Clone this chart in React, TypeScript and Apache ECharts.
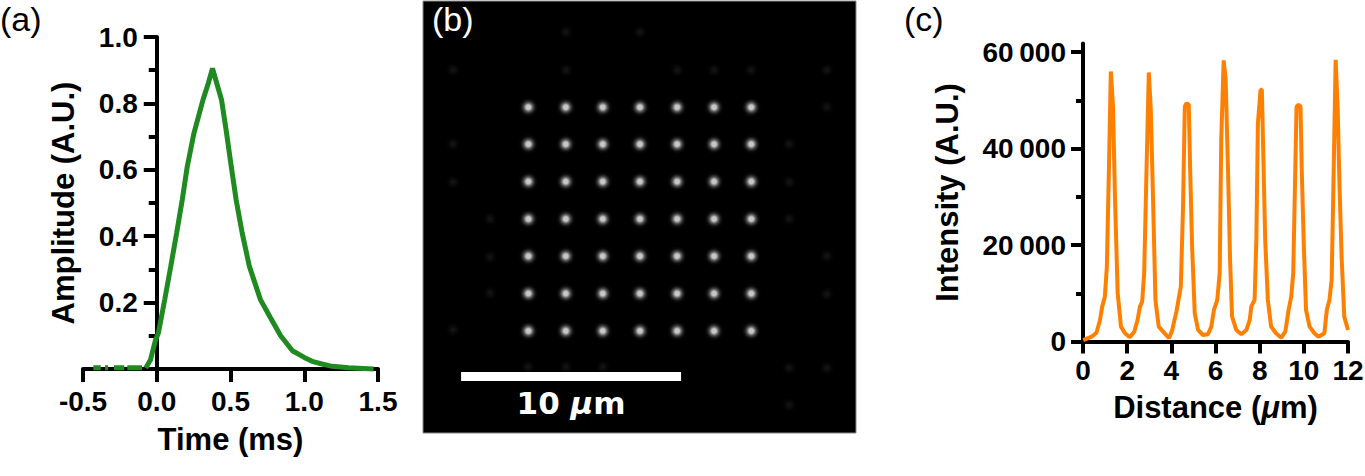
import React, { useEffect, useRef } from 'react';
import * as echarts from 'echarts';

// ---------- Panel (a): amplitude vs time ----------
const timeMs = [
  -0.43, -0.38, -0.365, -0.35, -0.33, -0.31, -0.29, -0.22, -0.21, -0.2, -0.1, -0.09,
  -0.075, -0.043, -0.01, 0.011, 0.054, 0.095, 0.135, 0.173, 0.207, 0.252, 0.313, 0.349, 0.378,
  0.439, 0.473, 0.505, 0.538, 0.579, 0.628, 0.703, 0.77, 0.84, 0.92, 1.0, 1.06, 1.12, 1.19, 1.3, 1.47,
];
const amplitude: (number | null)[] = [
  0.004, 0.004, null, 0.004, 0.004, null, 0.004, 0.004, null, 0.004, 0.004, null,
  0.003, 0.027, 0.085, 0.108, 0.209, 0.309, 0.41, 0.51, 0.61, 0.71, 0.81, 0.86, 0.905,
  0.811, 0.711, 0.61, 0.51, 0.41, 0.309, 0.209, 0.155, 0.1, 0.055, 0.035, 0.022, 0.015, 0.008, 0.004, 0.0,
];
const aXMin = -0.5;
const aXMax = 1.5;
const aXStep = 0.5;
const aYMax = 1.0;
const aYStep = 0.2;

// ---------- Panel (b): spot array image (µm) ----------
const spotCols = [4.79, 6.49, 8.17, 9.86, 11.55, 13.23, 14.92];
const spotRows = [4.83, 6.51, 8.21, 9.91, 11.6, 13.3, 15.0];
const faintSpotX = [1.36, 6.5, 11.55, 13.23, 14.91, 6.5, 9.86, 1.36, 1.36, 3.05, 3.05, 3.05, 1.36, 4.77, 6.5, 8.18, 16.64, 16.64, 16.64, 18.36, 18.36, 18.36, 18.36, 18.36, 16.64, 16.64];
const faintSpotY = [3.14, 3.14, 3.14, 3.14, 3.14, 1.41, 1.41, 6.5, 8.23, 9.91, 11.64, 13.27, 14.95, 16.64, 16.64, 16.64, 6.5, 8.23, 9.91, 3.14, 4.82, 11.59, 13.32, 16.68, 16.68, 18.36];
const imageWidthUm = 19.68;
const imageHeightUm = 19.64;
const scaleBarStart = 1.73;
const scaleBarLength = 10;
const scaleBarY = 17.07;

// ---------- Panel (c): intensity profile ----------
const distanceUm = [
  0.01, 0.39, 0.61, 0.77, 0.87, 0.99, 1.08, 1.17, 1.26, 1.36, 1.45, 1.57, 1.72, 1.9, 2.12,
  2.32, 2.47, 2.58, 2.68, 2.77, 2.88, 2.98, 3.07, 3.18, 3.28, 3.43, 3.7, 3.9,
  4.04, 4.23, 4.43, 4.53, 4.61, 4.68, 4.79, 4.85, 4.94, 5.06, 5.21, 5.43, 5.66,
  5.81, 5.93, 6.08, 6.19, 6.26, 6.37, 6.46, 6.57, 6.66, 6.75, 6.94, 7.17,
  7.4, 7.55, 7.62, 7.77, 7.85, 7.92, 8.04, 8.1, 8.15, 8.25, 8.37, 8.52, 8.74, 8.98,
  9.16, 9.31, 9.43, 9.52, 9.61, 9.67, 9.76, 9.85, 9.91, 10.0, 10.1, 10.26, 10.48, 10.66,
  10.93, 11.04, 11.16, 11.26, 11.35, 11.44, 11.53, 11.62, 11.71, 11.83, 12.0,
];
const intensity = [
  300, 1000, 1830, 4460, 7230, 9300, 15500, 34900, 56000, 48700, 29400, 10000, 3080, 1700, 870,
  2030, 4460, 7230, 8270, 14200, 36300, 55800, 48100, 28000, 8600, 3080, 1700, 700,
  2390, 6190, 11400, 28000, 48700, 49400, 49100, 36300, 19700, 5850, 2390, 1350, 1490,
  3080, 6540, 8620, 14200, 41800, 58300, 54300, 34900, 16900, 5150, 2390, 1490,
  2390, 4460, 7230, 8620, 21100, 45300, 52200, 52200, 41800, 21100, 8620, 3080, 1700, 790,
  2030, 6540, 9300, 14200, 34900, 48700, 49100, 48700, 34900, 19700, 6540, 3080, 1700, 1000,
  1700, 6540, 8620, 12800, 34900, 58400, 48700, 31500, 17600, 5150, 2390,
];
const cXMax = 12;
const cXStep = 2;
const cYMax = 61800;
const cYMajor = [0, 20000, 40000, 60000];
const cYMinor = [10000, 30000, 50000];

const FONT = '"Liberation Sans", Arial, Helvetica, sans-serif';
const SCALE_FONT = '"DejaVu Sans", Verdana, sans-serif';
const GREEN = '#1f8a1f';
const ORANGE = '#ff8000';

const tickLabel = { fontFamily: FONT, fontSize: 28, fontWeight: 'bold' as const, color: '#000' };
const axisTitle = { fontFamily: FONT, fontSize: 31, fontWeight: 'bold' as const, color: '#000' };
const blackLine = { color: '#000', width: 4 };

// panel (a) layout
const A_LEFT = 83;
const A_WIDTH = 295;
// the y axis of panel (a) sits at time 0, inside the x range
const A_Y_OFFSET = -((0 - aXMin) / (aXMax - aXMin)) * A_WIDTH;

export default function App() {
  const ref = useRef<HTMLDivElement>(null);
  useEffect(() => {
    document.body.style.margin = '0';
    const chart = echarts.init(ref.current!, null, { renderer: 'svg' });

    const spotGradient = new echarts.graphic.RadialGradient(0.5, 0.5, 0.5, [
      { offset: 0, color: 'rgba(255,255,255,1)' },
      { offset: 0.22, color: 'rgba(250,250,250,0.97)' },
      { offset: 0.45, color: 'rgba(180,180,180,0.55)' },
      { offset: 0.72, color: 'rgba(90,90,90,0.18)' },
      { offset: 1, color: 'rgba(0,0,0,0)' },
    ]);
    const faintGradient = new echarts.graphic.RadialGradient(0.5, 0.5, 0.5, [
      { offset: 0, color: 'rgba(255,255,255,0.11)' },
      { offset: 0.5, color: 'rgba(255,255,255,0.04)' },
      { offset: 1, color: 'rgba(0,0,0,0)' },
    ]);

    const spots: number[][] = [];
    spotRows.forEach((r) => spotCols.forEach((c) => spots.push([c, r])));
    const faint = faintSpotX.map((x, i) => [x, faintSpotY[i]]);

    const option: any = {
      animation: false,
      backgroundColor: '#fff',
      grid: [
        { left: A_LEFT, top: 37, width: A_WIDTH, height: 332, containLabel: false, outerBoundsMode: 'none' },
        { left: 423, top: 1, width: 433, height: 432, show: true, backgroundColor: '#000', borderColor: '#8a8a8a', borderWidth: 1, containLabel: false, outerBoundsMode: 'none' },
        { left: 1083, top: 43.5, width: 265, height: 298, containLabel: false, outerBoundsMode: 'none' },
      ],
      xAxis: [
        {
          gridIndex: 0, type: 'value', min: aXMin, max: aXMax, interval: aXStep,
          axisLine: { show: true, onZero: false, lineStyle: blackLine },
          axisTick: { show: true, length: 13, lineStyle: blackLine },
          axisLabel: { ...tickLabel, margin: 18, formatter: (v: number) => v.toFixed(1) },
          splitLine: { show: false },
          name: 'Time (ms)', nameLocation: 'middle', nameGap: 55, nameTextStyle: axisTitle,
        },
        { gridIndex: 1, type: 'value', min: 0, max: imageWidthUm, show: false },
        {
          gridIndex: 2, type: 'value', min: 0, max: cXMax, interval: cXStep,
          axisLine: { show: true, onZero: false, lineStyle: blackLine },
          axisTick: { show: true, length: 12, lineStyle: blackLine },
          axisLabel: { ...tickLabel, margin: 15 },
          splitLine: { show: false },
          name: 'Distance ({u|μ}m)', nameLocation: 'middle', nameGap: 50,
          nameTextStyle: { ...axisTitle, rich: { u: { ...axisTitle, fontStyle: 'italic' } } },
        },
      ],
      yAxis: [
        {
          gridIndex: 0, type: 'value', min: 0, max: aYMax, interval: aYStep,
          position: 'left', offset: A_Y_OFFSET,
          axisLine: { show: true, onZero: false, lineStyle: blackLine },
          axisTick: { show: true, length: 13, lineStyle: blackLine },
          minorTick: { show: true, splitNumber: 2, length: 8, lineStyle: blackLine },
          axisLabel: { ...tickLabel, margin: 19, showMinLabel: false, formatter: (v: number) => v.toFixed(1) },
          splitLine: { show: false },
          name: 'Amplitude (A.U.)', nameLocation: 'middle', nameGap: 78, nameTextStyle: axisTitle,
        },
        { gridIndex: 1, type: 'value', min: 0, max: imageHeightUm, inverse: true, show: false },
        {
          gridIndex: 2, type: 'value', min: 0, max: cYMax, position: 'left',
          axisLine: { show: true, onZero: false, lineStyle: blackLine },
          axisTick: { show: true, length: 12, lineStyle: blackLine, customValues: cYMajor },
          axisLabel: {
            ...tickLabel, margin: 17, customValues: cYMajor,
            formatter: (v: number) => (v === 0 ? '0' : String(v / 1000) + '\u2009000'),
          },
          splitLine: { show: false },
          name: 'Intensity (A.U.)', nameLocation: 'middle', nameGap: 120, nameTextStyle: axisTitle,
        },
        {
          gridIndex: 2, type: 'value', min: 0, max: cYMax, position: 'left',
          axisLine: { show: false, onZero: false },
          axisTick: { show: true, length: 7, lineStyle: blackLine, customValues: cYMinor },
          axisLabel: { show: false },
          splitLine: { show: false },
        },
      ],
      series: [
        {
          type: 'line', xAxisIndex: 0, yAxisIndex: 0, clip: false, symbol: 'none', z: 5,
          lineStyle: { color: GREEN, width: 5 },
          data: timeMs.map((t, i) => [t, amplitude[i] === null ? '-' : amplitude[i]]),
        },
        {
          type: 'scatter', xAxisIndex: 1, yAxisIndex: 1, symbolSize: 16, silent: true,
          itemStyle: { color: faintGradient },
          data: faint,
        },
        {
          type: 'scatter', xAxisIndex: 1, yAxisIndex: 1, symbolSize: 21, silent: true,
          itemStyle: { color: spotGradient },
          data: spots,
        },
        {
          type: 'line', xAxisIndex: 1, yAxisIndex: 1, symbol: 'none', silent: true,
          lineStyle: { color: '#fff', width: 9, cap: 'butt' },
          data: [[scaleBarStart, scaleBarY], [scaleBarStart + scaleBarLength, scaleBarY]],
        },
        {
          type: 'scatter', xAxisIndex: 1, yAxisIndex: 1, symbolSize: 1, silent: true,
          itemStyle: { color: '#000', opacity: 0 },
          label: {
            show: true, position: 'bottom', distance: 11,
            color: '#fff', opacity: 1, textBorderWidth: 0,
            formatter: '{n|10 }{u|μ}{n|m}',
            rich: {
              n: { fontFamily: SCALE_FONT, fontWeight: 'bold', fontSize: 31, color: '#fff' },
              u: { fontFamily: SCALE_FONT, fontWeight: 'bold', fontStyle: 'italic', fontSize: 31, color: '#fff' },
            },
          },
          data: [[scaleBarStart + scaleBarLength / 2, scaleBarY]],
        },
        {
          type: 'line', xAxisIndex: 2, yAxisIndex: 2, clip: false, symbol: 'none', z: 5,
          lineStyle: { color: ORANGE, width: 4 },
          data: distanceUm.map((d, i) => [d, intensity[i]]),
        },
      ],
      graphic: [
        { type: 'text', left: 0, top: 2, z: 100, style: { text: '(a)', fontFamily: FONT, fontSize: 34, fill: '#000' } },
        { type: 'text', left: 432, top: 2, z: 100, style: { text: '(b)', fontFamily: FONT, fontSize: 34, fill: '#fff' } },
        { type: 'text', left: 904, top: 2, z: 100, style: { text: '(c)', fontFamily: FONT, fontSize: 34, fill: '#000' } },
      ],
    };
    chart.setOption(option);
    return () => chart.dispose();
  }, []);
  return <div ref={ref} style={{ width: 1365, height: 476 }} />;
}
